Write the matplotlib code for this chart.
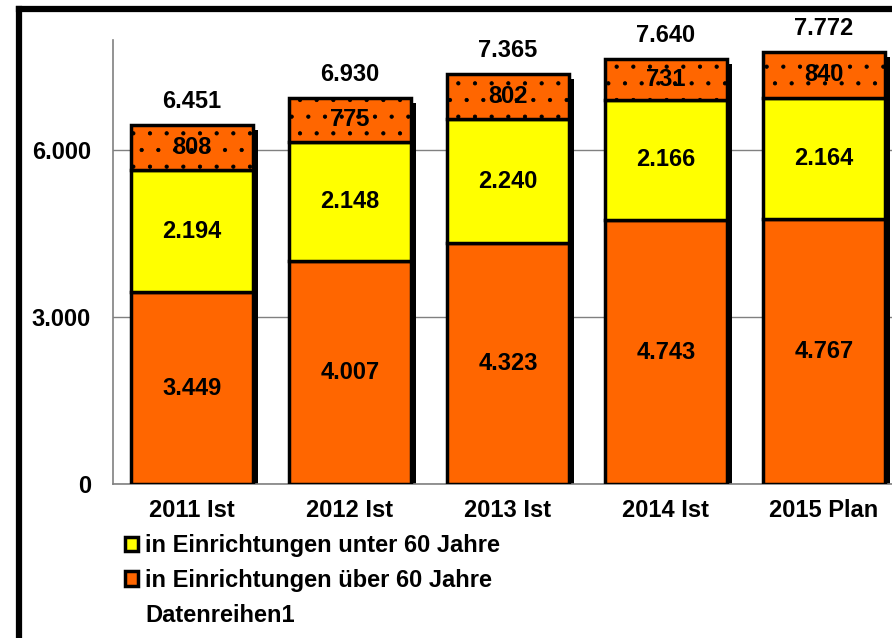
import numpy as np
import matplotlib
matplotlib.use('Agg')
import matplotlib.pyplot as plt
from matplotlib.patches import Patch
from matplotlib.lines import Line2D

plt.rcParams['font.family'] = ['Liberation Sans', 'DejaVu Sans']
plt.rcParams['font.weight'] = 'bold'
plt.rcParams['hatch.linewidth'] = 0.6

years = ['2011 Ist', '2012 Ist', '2013 Ist', '2014 Ist', '2015 Plan']
ueber60 = [3449, 4007, 4323, 4743, 4767]
unter60 = [2194, 2148, 2240, 2166, 2164]
reihe1 = [808, 775, 802, 731, 840]
totals = [6451, 6930, 7365, 7640, 7772]

ORANGE = '#FF6600'
YELLOW = '#FFFF00'
FS = 17


def de(v):
    return '{:,}'.format(v).replace(',', '.')


fig = plt.figure(figsize=(8.92, 6.38), dpi=100)
ax = fig.add_axes([113 / 892, 1 - 484 / 638, 790 / 892, 444 / 638])

x = np.arange(len(years))
w = 0.77
low = np.array(ueber60)
mid = np.array(unter60)
top = np.array(reihe1)
tot = low + mid + top

# shadow behind the bars
ax.bar(x + 0.035, tot - 90, w, color='black', zorder=2)

ax.bar(x, low, w, color=ORANGE, edgecolor='black', linewidth=2.5, zorder=3)
ax.bar(x, mid, w, bottom=low, color=YELLOW, edgecolor='black', linewidth=2.5, zorder=3)
ax.bar(x, top, w, bottom=low + mid, color=ORANGE, edgecolor='black', linewidth=2.5,
       hatch='.', zorder=3)

for i in range(len(years)):
    ax.text(x[i], low[i] / 2, de(ueber60[i]), ha='center', va='center', fontsize=FS, zorder=5)
    ax.text(x[i], low[i] + mid[i] / 2, de(unter60[i]), ha='center', va='center', fontsize=FS, zorder=5)
    ax.text(x[i], low[i] + mid[i] + top[i] / 2, de(reihe1[i]), ha='center', va='center',
            fontsize=FS, zorder=5)
    ax.annotate(de(totals[i]), (x[i], tot[i]), xytext=(0, 17), textcoords='offset points',
                ha='center', va='center', fontsize=FS)

ax.set_xlim(-0.5, 4.5)
ax.set_ylim(0, 7980)
ax.set_yticks([0, 3000, 6000])
ax.set_yticklabels(['0', '3.000', '6.000'])
ax.set_xticks(x)
ax.set_xticklabels(years)
ax.tick_params(length=0)
ax.tick_params(axis='y', pad=16, labelsize=FS)
ax.tick_params(axis='x', pad=11, labelsize=FS)
ax.grid(axis='y', color='#808080', linewidth=1, zorder=0)
ax.set_axisbelow(True)
for s in ['top', 'right']:
    ax.spines[s].set_visible(False)
for s in ['left', 'bottom']:
    ax.spines[s].set_color('#808080')
    ax.spines[s].set_linewidth(1.2)

handles = [Patch(facecolor=YELLOW, edgecolor='black', linewidth=2.5),
           Patch(facecolor=ORANGE, edgecolor='black', linewidth=2.5),
           Patch(facecolor='none', edgecolor='none')]
labels = ['in Einrichtungen unter 60 Jahre', 'in Einrichtungen über 60 Jahre', 'Datenreihen1']
fig.legend(handles, labels, loc='upper left', bbox_to_anchor=(125 / 892, 1 - 534 / 638),
           frameon=False, fontsize=FS, handlelength=0.55, handleheight=0.55,
           handletextpad=0.3, labelspacing=0.5, borderpad=0, borderaxespad=0)

# outer frame (left and top edges visible)
fig.add_artist(Line2D([19 / 892, 19 / 892], [0, 1 - 9 / 638], color='black', linewidth=4.5,
                      transform=fig.transFigure, solid_capstyle='projecting'))
fig.add_artist(Line2D([19 / 892, 1], [1 - 9 / 638, 1 - 9 / 638], color='black', linewidth=4.5,
                      transform=fig.transFigure, solid_capstyle='projecting'))

fig.savefig('out.png', dpi=100)
